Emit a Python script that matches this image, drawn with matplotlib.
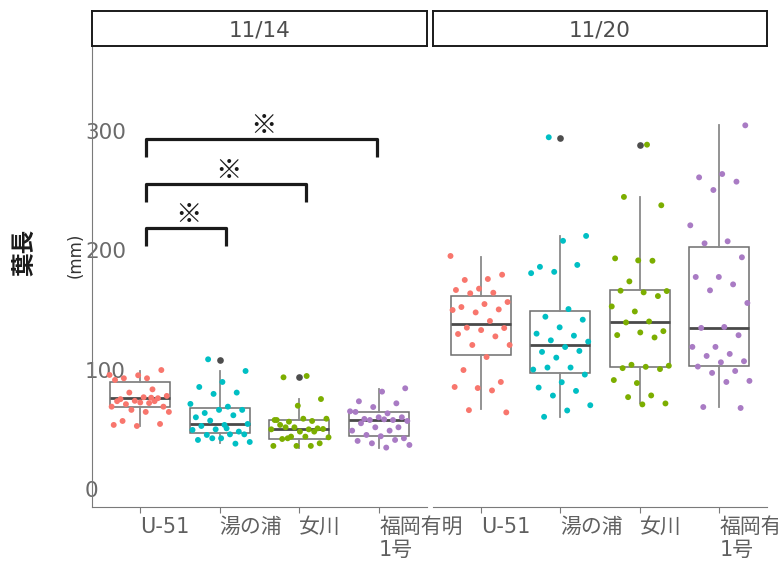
import numpy as np
import matplotlib
matplotlib.use("Agg")
import matplotlib.pyplot as plt

plt.rcParams['font.family'] = ['DejaVu Sans', 'Noto Sans CJK JP']

# --- data ---
dates = ['11/14', '11/20']
strains = ['U-51', '湯の浦', '女川', '福岡有明\n1号']
colors = ['#F8766D', '#00BFC4', '#7CAE00', '#A97BC4']

# leaf length (mm) per strain, 11/14
u51_1114 = [95.6, 92.8, 92.8, 99.7, 95.3, 91.4, 83.5, 80.8, 78.0, 76.9, 75.3, 76.1, 73.9, 69.0,
            72.0, 71.1, 69.0, 72.5, 73.6, 73.6, 66.3, 64.6, 64.6, 57.0, 54.5, 52.8, 53.7, 76.5]
yuno_1114 = [108.7, 98.9, 89.7, 85.5, 80.8, 79.7, 71.3, 69.0, 63.7, 66.3, 66.3, 60.1, 61.8, 57.3,
             54.5, 53.7, 52.8, 48.1, 50.0, 49.5, 45.8, 45.3, 45.8, 42.5, 41.1, 38.0, 42.5, 39.4, 50.8]
onag_1114 = [94.7, 93.6, 75.4, 69.8, 57.8, 57.0, 56.4, 58.9, 58.9, 53.7, 50.8, 51.7, 50.0, 50.0,
             51.7, 50.3, 48.1, 57.8, 48.1, 43.9, 43.3, 43.9, 41.9, 38.3, 36.1, 36.1, 36.1, 42.5]
fuku_1114 = [84.4, 81.6, 73.5, 71.8, 68.7, 65.1, 63.4, 58.7, 60.1, 60.1, 64.6, 57.8, 57.8, 57.0,
             58.4, 55.1, 51.7, 51.7, 48.9, 48.9, 45.3, 42.5, 44.2, 40.3, 41.1, 38.3, 36.9, 34.7]
# 11/20
u51_1120 = [195.3, 176.0, 175.2, 179.6, 167.9, 166.8, 164.5, 164.0, 156.7, 155.0, 152.5, 150.5,
            148.0, 150.0, 140.8, 135.2, 134.9, 133.2, 129.9, 127.9, 120.7, 120.7, 110.6, 99.7,
            89.7, 84.6, 85.5, 82.6, 66.1, 64.2]
yuno_1120 = [294.8, 212.1, 208.0, 186.2, 187.8, 182.0, 180.9, 150.8, 144.4, 141.9, 135.5, 130.2,
             128.5, 124.6, 123.5, 119.0, 114.9, 115.7, 110.1, 100.1, 101.8, 101.8, 95.9, 89.5,
             85.0, 82.2, 78.3, 70.2, 65.8, 60.5]
onag_1120 = [288.6, 244.8, 237.8, 191.6, 193.3, 191.3, 174.0, 165.9, 164.8, 166.2, 161.7, 148.8,
             153.0, 140.4, 139.6, 132.3, 131.2, 129.0, 127.0, 104.1, 103.3, 102.4, 101.3, 100.5,
             88.8, 91.3, 78.4, 77.0, 71.7, 70.9]
fuku_1120 = [304.8, 264.0, 261.2, 257.6, 250.6, 221.0, 207.6, 205.9, 194.2, 177.7, 177.7, 171.5,
             166.5, 155.9, 135.8, 135.0, 128.9, 119.1, 119.1, 113.2, 111.5, 107.1, 106.2, 102.6,
             98.9, 97.3, 90.6, 89.7, 68.7, 67.9]

# box statistics: q1, median, q3, whisker low, whisker high, outliers
box_1114 = [
    (69.0, 76.3, 89.4, 52.8, 99.2, []),
    (46.9, 54.2, 67.9, 38.3, 98.7, [108.1]),
    (42.2, 50.5, 57.8, 34.6, 75.2, [93.9]),
    (44.2, 58.1, 64.3, 34.6, 83.8, []),
]
box_1120 = [
    (112.3, 138.0, 162.0, 66.8, 194.7, []),
    (97.0, 120.4, 149.5, 60.1, 212.1, [294.5]),
    (102.3, 139.7, 166.8, 72.4, 245.0, [288.3]),
    (103.4, 135.0, 203.1, 68.5, 304.9, []),
]

# significance brackets (11/14 only): x span and bracket heights
sig_spans = [(1.08, 2.08), (1.08, 3.08), (1.08, 3.97)]
sig_heights = [218.8, 255.7, 293.4]

points = [[u51_1114, yuno_1114, onag_1114, fuku_1114],
          [u51_1120, yuno_1120, onag_1120, fuku_1120]]
boxes = [box_1114, box_1120]

W, H = 778, 565
fig = plt.figure(figsize=(W / 100, H / 100), dpi=100)

def frac(x0, y0, x1, y1):
    return [x0 / W, 1 - y1 / H, (x1 - x0) / W, (y1 - y0) / H]

panel_x = [(92, 427), (433, 767)]
gray = '#606060'
cjk = ['Noto Sans CJK JP', 'DejaVu Sans']

for p in range(2):
    x0, x1 = panel_x[p]
    ax = fig.add_axes(frac(x0, 46, x1, 507))
    sax = fig.add_axes(frac(x0, 11, x1, 46))

    stats = []
    for q1, med, q3, lo, hi, fl in boxes[p]:
        stats.append(dict(q1=q1, med=med, q3=q3, whislo=lo, whishi=hi, fliers=fl))
    ax.bxp(stats, positions=[1, 2, 3, 4], widths=0.75, showcaps=False, patch_artist=True,
           boxprops=dict(facecolor='white', edgecolor='#6e6e6e', linewidth=1.1),
           whiskerprops=dict(color='#8a8a8a', linewidth=1.3),
           medianprops=dict(color='#4a4a4a', linewidth=2.0),
           flierprops=dict(marker='o', markerfacecolor='#4d4d4d', markeredgecolor='none',
                           markersize=4.8),
           zorder=2)

    for i, vals in enumerate(points[p]):
        n = len(vals)
        jit = ((np.arange(n) * 0.618034 + 0.31 * i) % 1 - 0.5) * 0.76
        ax.scatter(np.full(n, i + 1) + jit, vals, s=18, color=colors[i],
                   edgecolors='none', zorder=3)

    if p == 0:
        for (a, b), h in zip(sig_spans, sig_heights):
            ax.plot([a, a, b, b], [h - 15, h, h, h - 15],
                    color='#1a1a1a', lw=2.3, solid_capstyle='butt', zorder=4)
            ax.text((a + b) / 2 + 0.03, h + 11, '※', ha='center', va='center',
                    fontsize=19, fontweight='bold', color='#1a1a1a', family=cjk)

    ax.set_xlim(0.4, 4.6)
    ax.set_ylim(-15.1, 371.3)
    ax.set_xticks([1, 2, 3, 4])
    ax.set_xticklabels(strains, ha='left', multialignment='left')
    ax.tick_params(axis='x', length=4, width=0.8, color='#7a7a7a', pad=3,
                   labelsize=15, labelcolor=gray)
    for s in ['top', 'right']:
        ax.spines[s].set_visible(False)
    ax.spines['bottom'].set_color('#7a7a7a')
    ax.spines['left'].set_color('#7a7a7a')
    if p == 0:
        ax.set_yticks([0, 100, 200, 300])
        ax.tick_params(axis='y', length=0, pad=5, labelsize=15.5, labelcolor='#6a6a6a')
        plt.setp(ax.get_yticklabels(), ha='left')
    else:
        ax.spines['left'].set_visible(False)
        ax.set_yticks([])

    sax.set_xticks([])
    sax.set_yticks([])
    for s in sax.spines.values():
        s.set_linewidth(1.4)
        s.set_color('#1a1a1a')
    sax.text(0.5, 0.45, dates[p], ha='center', va='center', fontsize=15.5,
             color='#4d4d4d', transform=sax.transAxes)

fig.text(24 / W, 1 - 252 / H, '葉長', rotation=90, ha='center', va='center',
         fontsize=17, fontweight='bold', color='#1a1a1a', family=cjk)
fig.text(76 / W, 1 - 255 / H, '(mm)', rotation=90, ha='center', va='center',
         fontsize=12, color='#333333', family=['DejaVu Sans'])

fig.savefig('out.png', dpi=100)
